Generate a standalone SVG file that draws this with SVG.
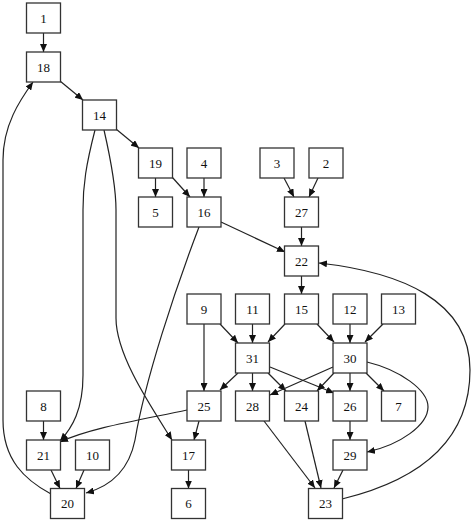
<svg xmlns="http://www.w3.org/2000/svg" width="474" height="522" viewBox="0 0 474 522">
<style>
.n rect{fill:#fff;stroke:#333;stroke-width:1.3}
.n text{font-family:"Liberation Serif","Times New Roman",serif;font-size:13px;fill:#111;text-anchor:middle}
#edges path{fill:none;stroke:#222;stroke-width:1.2;marker-end:url(#ah)}
</style>
<defs>
<marker id="ah" markerUnits="userSpaceOnUse" markerWidth="9" markerHeight="7" refX="8" refY="3.5" orient="auto">
<path d="M0,0 L8,3.5 L0,7 z" fill="#111"/>
</marker>
</defs>
<rect width="474" height="522" fill="#fff"/>
<g id="edges">
<path d="M43.5,33 L43.5,52"/>
<path d="M60,81 L83,100"/>
<path d="M116,129 L139,148"/>
<path d="M155.5,178 L155.5,197"/>
<path d="M172,177 L190,197"/>
<path d="M204,178 L204,197"/>
<path d="M221,222 L285,252"/>
<path d="M199,227 C175,290 145,380 135,440 C130,465 115,485 86,493"/>
<path d="M95,130 C86,165 83,185 83,210 L83,375 C83,410 72,428 60,441"/>
<path d="M104,130 C112,165 116,190 116,210 L116,318 C116,355 150,405 172,440"/>
<path d="M51,494 C25,480 3,460 3,420 L3,160 C3,125 20,100 33,82"/>
<path d="M284,178 L294,197"/>
<path d="M318,178 L309,197"/>
<path d="M301.5,227 L301.5,246"/>
<path d="M301.5,276 L301.5,294"/>
<path d="M342,499 C420,480 470,440 470,370 C470,300 400,272 319,263"/>
<path d="M220,324 L238,343"/>
<path d="M204,324 L204,391"/>
<path d="M252.5,324 L252.5,343"/>
<path d="M285,324 L268,342"/>
<path d="M317,324 L334,342"/>
<path d="M350,324 L350,343"/>
<path d="M383,324 L365,342"/>
<path d="M238,373 L220,390"/>
<path d="M252.5,373 L252.5,391"/>
<path d="M268,373 L286,391"/>
<path d="M270,367 L334,393"/>
<path d="M333,367 L270,395"/>
<path d="M334,373 L317,391"/>
<path d="M350,373 L350,391"/>
<path d="M366,373 L384,391"/>
<path d="M367,362 C400,370 428,390 428,407 C428,425 400,445 367,452"/>
<path d="M350,421 L350,440"/>
<path d="M264,421 L315,488"/>
<path d="M305,421 L321,488"/>
<path d="M343,470 L334,488"/>
<path d="M43.5,421 L43.5,440"/>
<path d="M187,410 C140,420 90,428 60,442"/>
<path d="M199,421 L194,440"/>
<path d="M51,470 L60,488.5"/>
<path d="M84,470 L76,488.5"/>
<path d="M188.5,470 L188.5,488.5"/>
</g>
<g id="n1" class="n"><rect x="26.5" y="3" width="34" height="30"/><text x="43.5" y="22.5">1</text></g>
<g id="n18" class="n"><rect x="26.5" y="52" width="34" height="30"/><text x="43.5" y="71.5">18</text></g>
<g id="n14" class="n"><rect x="82.5" y="100" width="34" height="30"/><text x="99.5" y="119.5">14</text></g>
<g id="n19" class="n"><rect x="138.5" y="148" width="34" height="30"/><text x="155.5" y="167.5">19</text></g>
<g id="n4" class="n"><rect x="187" y="148" width="34" height="30"/><text x="204" y="167.5">4</text></g>
<g id="n3" class="n"><rect x="260" y="148" width="34" height="30"/><text x="277" y="167.5">3</text></g>
<g id="n2" class="n"><rect x="309" y="148" width="34" height="30"/><text x="326" y="167.5">2</text></g>
<g id="n5" class="n"><rect x="138.5" y="197" width="34" height="30"/><text x="155.5" y="216.5">5</text></g>
<g id="n16" class="n"><rect x="187" y="197" width="34" height="30"/><text x="204" y="216.5">16</text></g>
<g id="n27" class="n"><rect x="284.5" y="197" width="34" height="30"/><text x="301.5" y="216.5">27</text></g>
<g id="n22" class="n"><rect x="284.5" y="246" width="34" height="30"/><text x="301.5" y="265.5">22</text></g>
<g id="n9" class="n"><rect x="187" y="294" width="34" height="30"/><text x="204" y="313.5">9</text></g>
<g id="n11" class="n"><rect x="235.5" y="294" width="34" height="30"/><text x="252.5" y="313.5">11</text></g>
<g id="n15" class="n"><rect x="284.5" y="294" width="34" height="30"/><text x="301.5" y="313.5">15</text></g>
<g id="n12" class="n"><rect x="333" y="294" width="34" height="30"/><text x="350" y="313.5">12</text></g>
<g id="n13" class="n"><rect x="381.5" y="294" width="34" height="30"/><text x="398.5" y="313.5">13</text></g>
<g id="n31" class="n"><rect x="235.5" y="343" width="34" height="30"/><text x="252.5" y="362.5">31</text></g>
<g id="n30" class="n"><rect x="333" y="343" width="34" height="30"/><text x="350" y="362.5">30</text></g>
<g id="n8" class="n"><rect x="26.5" y="391" width="34" height="30"/><text x="43.5" y="410.5">8</text></g>
<g id="n25" class="n"><rect x="187" y="391" width="34" height="30"/><text x="204" y="410.5">25</text></g>
<g id="n28" class="n"><rect x="235.5" y="391" width="34" height="30"/><text x="252.5" y="410.5">28</text></g>
<g id="n24" class="n"><rect x="284.5" y="391" width="34" height="30"/><text x="301.5" y="410.5">24</text></g>
<g id="n26" class="n"><rect x="333" y="391" width="34" height="30"/><text x="350" y="410.5">26</text></g>
<g id="n7" class="n"><rect x="381.5" y="391" width="34" height="30"/><text x="398.5" y="410.5">7</text></g>
<g id="n21" class="n"><rect x="26.5" y="440" width="34" height="30"/><text x="43.5" y="459.5">21</text></g>
<g id="n10" class="n"><rect x="75.5" y="440" width="34" height="30"/><text x="92.5" y="459.5">10</text></g>
<g id="n17" class="n"><rect x="171.5" y="440" width="34" height="30"/><text x="188.5" y="459.5">17</text></g>
<g id="n29" class="n"><rect x="333" y="440" width="34" height="30"/><text x="350" y="459.5">29</text></g>
<g id="n20" class="n"><rect x="50.5" y="488.5" width="34" height="30"/><text x="67.5" y="508">20</text></g>
<g id="n6" class="n"><rect x="171.5" y="488.5" width="34" height="30"/><text x="188.5" y="508">6</text></g>
<g id="n23" class="n"><rect x="308.5" y="488.5" width="34" height="30"/><text x="325.5" y="508">23</text></g>
</svg>
